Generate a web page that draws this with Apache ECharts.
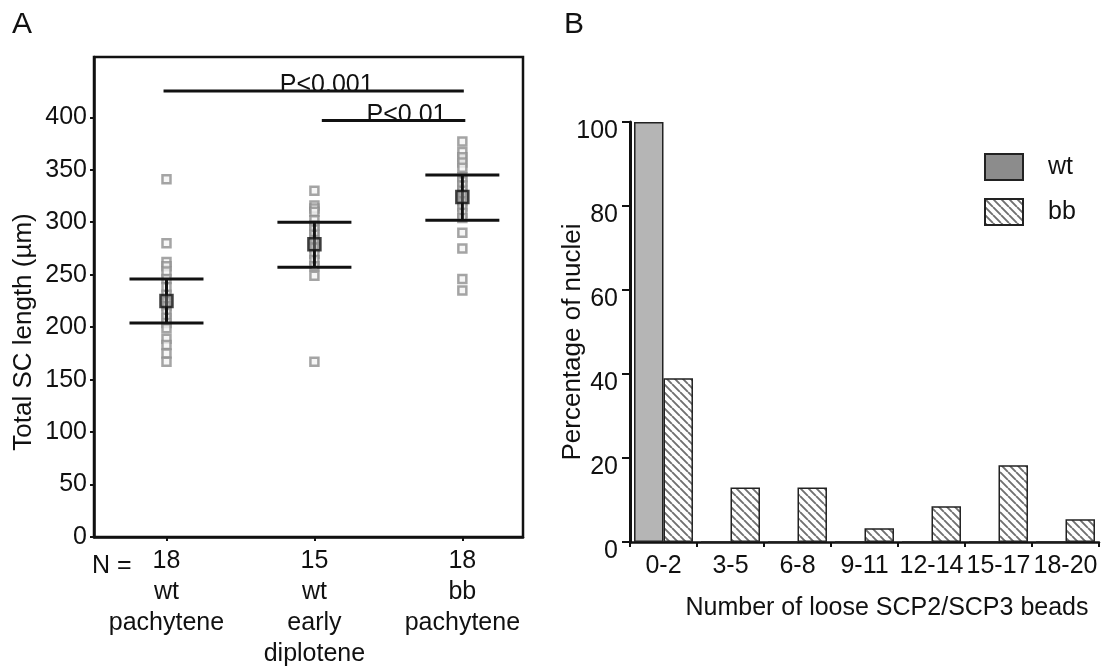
<!DOCTYPE html>
<html>
<head>
<meta charset="utf-8">
<script src="https://cdn.jsdelivr.net/npm/echarts@6/dist/echarts.min.js"></script>
<style>
  html, body { margin: 0; padding: 0; background: #fff; }
  #chart { width: 1111px; height: 670px; }
</style>
</head>
<body>
<div id="chart"></div>
<script>
// Panel A: total SC length per nucleus
const groupX = [1, 2, 3];
const groupN = [18, 15, 18];
const groupLabels = [["wt", "pachytene"], ["wt", "early", "diplotene"], ["bb", "pachytene"]];
const wtPachytene = [341, 280, 262, 258, 253, 246, 238, 231, 225, 220, 214, 209, 204, 199, 189, 183, 175, 167];
const wtDiplotene = [330, 316, 313, 310, 302, 297, 293, 288, 283, 276, 270, 264, 258, 249, 167];
const bbPachytene = [377, 367, 362, 357, 352, 343, 339, 335, 330, 326, 320, 315, 309, 304, 290, 275, 246, 235];
const groupMeans = [225, 279, 324];
const ciLow = [204, 257, 302];
const ciHigh = [246, 300, 345];
const yTicksA = [0, 50, 100, 150, 200, 250, 300, 350, 400];

// significance bars
const sigFrom = [0.98, 2.05];
const sigTo = [3.01, 3.02];
const sigY = [425, 397];
const sigText = ["P<0.001", "P<0.01"];

// Panel B: loose SCP2/SCP3 beads
const beadBins = ["0-2", "3-5", "6-8", "9-11", "12-14", "15-17", "18-20"];
const wtPct = [100, 0, 0, 0, 0, 0, 0];
const bbPct = [39, 13, 13, 3.3, 8.5, 18.3, 5.4];

const FONT = "Liberation Sans, Arial, sans-serif";
const INK = "#111";

function makeHatch() {
  const s = 8;
  const c = document.createElement("canvas");
  c.width = s;
  c.height = s;
  const ctx = c.getContext("2d");
  ctx.fillStyle = "#fff";
  ctx.fillRect(0, 0, s, s);
  ctx.strokeStyle = "#707070";
  ctx.lineWidth = 1.9;
  ctx.beginPath();
  for (const k of [-s, 0, s]) {
    ctx.moveTo(k, 0);
    ctx.lineTo(k + s, s);
  }
  ctx.stroke();
  return c;
}

const cellPoints = [wtPachytene, wtDiplotene, bbPachytene]
  .flatMap((vals, i) => vals.map((v) => [groupX[i], v]));

const chart = echarts.init(document.getElementById("chart"));

chart.setOption({
  animation: false,
  textStyle: { fontFamily: FONT, color: INK },
  grid: [
    { left: 94, top: 57, width: 429, height: 485, show: true, borderColor: "#111", borderWidth: 2.5 },
    { left: 630, top: 122, width: 469, height: 420 },
  ],
  legend: {
    data: [{ name: "wt", itemStyle: { color: "#8c8c8c" } }, "bb"],
    orient: "vertical",
    left: 979,
    top: 148,
    icon: "rect",
    itemWidth: 38,
    itemHeight: 26,
    itemGap: 17,
    textStyle: { fontSize: 25, color: INK, fontFamily: FONT, padding: [0, 0, 0, 20] },
  },
  xAxis: [
    {
      gridIndex: 0,
      type: "value",
      min: 0.51,
      max: 3.41,
      axisLine: { show: true, lineStyle: { color: "#111", width: 2.5 } },
      axisTick: { show: true, customValues: groupX, length: 4, lineStyle: { color: "#111", width: 2 } },
      axisLabel: {
        customValues: groupX,
        fontSize: 25,
        lineHeight: 31,
        margin: 9,
        color: INK,
        formatter: (v) => {
          const i = groupX.indexOf(v);
          return [groupN[i]].concat(groupLabels[i]).join("\n");
        },
      },
      splitLine: { show: false },
    },
    {
      gridIndex: 1,
      type: "category",
      data: beadBins,
      axisLine: { show: true, lineStyle: { color: "#111", width: 2.5 } },
      axisTick: { show: true, length: 5, lineStyle: { color: "#111", width: 2 } },
      axisLabel: { interval: 0, fontSize: 25, margin: 12, color: INK },
    },
  ],
  yAxis: [
    {
      gridIndex: 0,
      type: "value",
      min: 0,
      max: 457.5,
      axisLine: { show: true, lineStyle: { color: "#111", width: 2.5 } },
      axisTick: { show: true, customValues: yTicksA, length: 4, lineStyle: { color: "#111", width: 2 } },
      axisLabel: { customValues: yTicksA, fontSize: 25, margin: 7, color: INK },
      splitLine: { show: false },
    },
    {
      gridIndex: 1,
      type: "value",
      min: 0,
      max: 100,
      interval: 20,
      axisLine: { show: true, lineStyle: { color: "#111", width: 3 } },
      axisTick: { show: true, length: 8, lineStyle: { color: "#111", width: 2 } },
      axisLabel: { fontSize: 25, margin: 12, color: INK, verticalAlign: "top", lineHeight: 18 },
      splitLine: { show: false },
    },
  ],
  series: [
    {
      name: "cells",
      type: "scatter",
      xAxisIndex: 0,
      yAxisIndex: 0,
      data: cellPoints,
      symbol: "rect",
      symbolSize: 8,
      itemStyle: { color: "#f4f4f4", borderColor: "#8f8f8f", borderWidth: 2.5 },
      z: 2,
    },
    {
      name: "ci",
      type: "custom",
      xAxisIndex: 0,
      yAxisIndex: 0,
      data: groupX.map((x, i) => [x, ciLow[i], ciHigh[i]]),
      renderItem: (params, api) => {
        const x = api.value(0);
        const lo = api.coord([x, api.value(1)]);
        const hi = api.coord([x, api.value(2)]);
        const half = 37;
        const style = { stroke: "#111", lineWidth: 3 };
        return {
          type: "group",
          children: [
            { type: "line", shape: { x1: lo[0], y1: lo[1], x2: hi[0], y2: hi[1] }, style },
            { type: "line", shape: { x1: lo[0] - half, y1: lo[1], x2: lo[0] + half, y2: lo[1] }, style },
            { type: "line", shape: { x1: hi[0] - half, y1: hi[1], x2: hi[0] + half, y2: hi[1] }, style },
          ],
        };
      },
      z: 3,
    },
    {
      name: "mean",
      type: "scatter",
      xAxisIndex: 0,
      yAxisIndex: 0,
      data: groupX.map((x, i) => [x, groupMeans[i]]),
      symbol: "rect",
      symbolSize: 12,
      itemStyle: { color: "rgba(140,140,140,0.6)", borderColor: "#111", borderWidth: 2.5 },
      z: 4,
    },
    {
      name: "sig",
      type: "custom",
      xAxisIndex: 0,
      yAxisIndex: 0,
      data: sigY.map((y, i) => [sigFrom[i], sigTo[i], y]),
      renderItem: (params, api) => {
        const a = api.coord([api.value(0), api.value(2)]);
        const b = api.coord([api.value(1), api.value(2)]);
        return {
          type: "group",
          children: [
            {
              type: "text",
              x: (a[0] + b[0]) / 2 + 13,
              y: a[1] + 7,
              style: {
                text: sigText[params.dataIndex],
                fontSize: 25,
                fontFamily: FONT,
                fill: INK,
                align: "center",
                verticalAlign: "bottom",
              },
            },
            { type: "line", shape: { x1: a[0], y1: a[1], x2: b[0], y2: b[1] }, style: { stroke: "#111", lineWidth: 3 } },
          ],
        };
      },
      z: 5,
    },
    {
      name: "wt",
      type: "bar",
      xAxisIndex: 1,
      yAxisIndex: 1,
      data: wtPct,
      barGap: "0%",
      barCategoryGap: "12%",
      itemStyle: { color: "#b5b5b5", borderColor: "#222", borderWidth: 1.5 },
    },
    {
      name: "bb",
      type: "bar",
      xAxisIndex: 1,
      yAxisIndex: 1,
      data: bbPct,
      barGap: "0%",
      barCategoryGap: "12%",
      itemStyle: { color: { image: makeHatch(), repeat: "repeat" }, borderColor: "#222", borderWidth: 1.5 },
    },
  ],
  graphic: [
    { type: "text", left: 12, top: 10, style: { text: "A", fontSize: 30, fontFamily: FONT, fill: INK } },
    { type: "text", left: 564, top: 10, style: { text: "B", fontSize: 30, fontFamily: FONT, fill: INK } },
    { type: "text", x: 92, y: 566, style: { text: "N =", fontSize: 25, fontFamily: FONT, fill: INK, verticalAlign: "middle" } },
    {
      type: "text", x: 24, y: 332, rotation: Math.PI / 2,
      style: { text: "Total SC length (µm)", fontSize: 26, fontFamily: FONT, fill: INK, align: "center", verticalAlign: "middle" },
    },
    {
      type: "text", x: 573, y: 342, rotation: Math.PI / 2,
      style: { text: "Percentage of nuclei", fontSize: 26, fontFamily: FONT, fill: INK, align: "center", verticalAlign: "middle" },
    },
    {
      type: "text", x: 887, y: 608,
      style: { text: "Number of loose SCP2/SCP3 beads", fontSize: 25, fontFamily: FONT, fill: INK, align: "center", verticalAlign: "middle" },
    },
  ],
});
</script>
</body>
</html>
